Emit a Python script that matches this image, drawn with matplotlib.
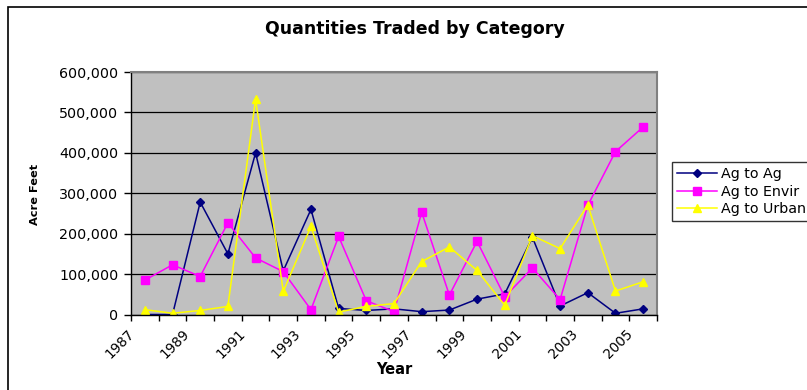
import matplotlib
matplotlib.use('Agg')
import matplotlib.pyplot as plt
from matplotlib.ticker import FuncFormatter, FixedLocator, NullFormatter
from matplotlib.patches import Rectangle

years = list(range(1987, 2006))
ag_to_ag = [0, 0, 278000, 150000, 400000, 108000, 260000, 15000, 10000, 14000,
            7000, 11000, 38000, 51000, 191000, 21000, 54000, 3000, 14000]
ag_to_envir = [85000, 123000, 94000, 227000, 140000, 106000, 12000, 193000, 34000, 7000,
               253000, 48000, 181000, 44000, 115000, 37000, 270000, 403000, 464000]
ag_to_urban = [12000, 3000, 10000, 20000, 533000, 57000, 218000, 6000, 20000, 27000,
               131000, 167000, 109000, 23000, 195000, 163000, 271000, 58000, 81000]
series_names = ["Ag to Ag", "Ag to Envir", "Ag to Urban"]
label_years = years[::2]

plt.rcParams['font.family'] = ['DejaVu Sans']

W, H = 807, 390
fig = plt.figure(figsize=(W / 100, H / 100), dpi=100)
L, R, T, B = 131, 657, 72, 314.5
ax = fig.add_axes([L / W, 1 - B / H, (R - L) / W, (B - T) / H])
ax.set_facecolor('#C0C0C0')

x = list(range(len(years)))
ax.plot(x, ag_to_ag, color='#000080', marker='D', markersize=4.5, lw=1.1, label=series_names[0])
ax.plot(x, ag_to_envir, color='#FF00FF', marker='s', markersize=5.3, lw=1.1, label=series_names[1])
ax.plot(x, ag_to_urban, color='#FFFF00', marker='^', markersize=6, lw=1.1, label=series_names[2])

ax.set_xlim(-0.5, len(years) - 0.5)
ax.set_ylim(0, 600000)
ax.set_yticks(range(0, 600001, 100000))
ax.yaxis.set_major_formatter(FuncFormatter(lambda v, p: f"{int(v):,}"))
ax.yaxis.grid(True, color='black', lw=0.9)
ax.set_axisbelow(True)
ax.tick_params(axis='y', direction='out', length=5, width=1, labelsize=10.3, pad=4)

# category boundaries as tick marks
ax.xaxis.set_major_locator(FixedLocator([i - 0.5 for i in range(len(years) + 1)]))
ax.xaxis.set_major_formatter(NullFormatter())
ax.tick_params(axis='x', which='major', direction='out', length=4, width=1)
# labels for every other category
lab_idx = [years.index(y) for y in label_years]
ax.set_xticks([i - 0.45 for i in lab_idx], minor=True)
ax.set_xticklabels([str(y) for y in label_years], minor=True)
ax.tick_params(axis='x', which='minor', length=0, labelsize=9.8, pad=12.5)
for t in ax.get_xticklabels(minor=True):
    t.set_rotation(45)
    t.set_ha('right')
    t.set_va('center')
    t.set_rotation_mode('anchor')

for s in ['left', 'bottom']:
    ax.spines[s].set_color('black')
    ax.spines[s].set_linewidth(1)
for s in ['top', 'right']:
    ax.spines[s].set_color('#808080')
    ax.spines[s].set_linewidth(1.5)

fig.text(415 / W, 1 - 29 / H, "Quantities Traded by Category", ha='center', va='center',
         fontsize=12.5, fontweight='bold')
fig.text(35 / W, 1 - 194 / H, "Acre Feet", ha='center', va='center', rotation=90,
         fontsize=8.2, fontweight='bold')
fig.text(394 / W, 1 - 370 / H, "Year", ha='center', va='center', fontsize=10.5, fontweight='bold')

fig.patches.append(Rectangle((8 / W, -0.2), 1.2, 1 - 7 / H + 0.2, transform=fig.transFigure,
                             fill=False, edgecolor='black', lw=1.2))

leg = fig.legend(loc='upper left', bbox_to_anchor=(672 / W, 1 - 162 / H), frameon=True,
                 fancybox=False, edgecolor='black', fontsize=10.3, handlelength=2.8,
                 borderpad=0.35, labelspacing=0.25, handletextpad=0.3, borderaxespad=0)
leg.get_frame().set_linewidth(1)

fig.savefig('out.png', dpi=100)
